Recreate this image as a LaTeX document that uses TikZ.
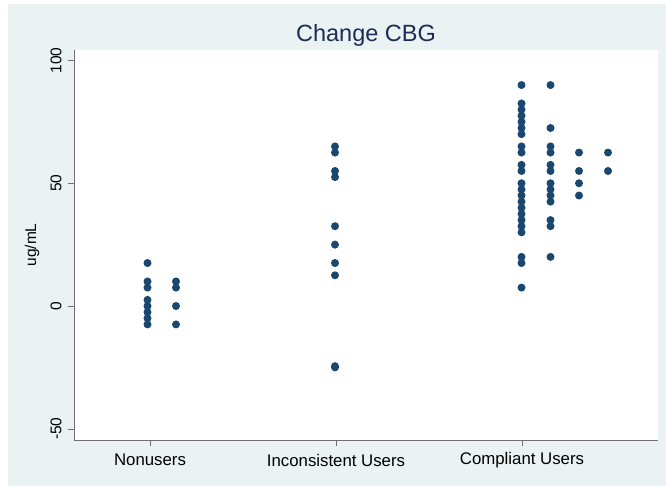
\documentclass[tikz,border=0pt]{standalone}
\usepackage{fontspec}
\setmainfont{Liberation Sans}
\definecolor{panelbg}{HTML}{EAF2F3}
\definecolor{dotblue}{HTML}{1A476F}
\definecolor{titlenavy}{HTML}{1E2D53}
\definecolor{axisgray}{HTML}{707070}
\tikzset{
  datadot/.style={fill=dotblue},
  ticklab/.style={font=\fontsize{15.5}{16}\selectfont, rotate=90},
  catlab/.style={font=\fontsize{16.8}{18}\selectfont},
}
\begin{document}
\begin{tikzpicture}[x=1pt, y=-1pt]
    \useasboundingbox (0,0) rectangle (666,486);
    \fill[panelbg] (8,4) rectangle (666,486);
    \fill[white] (74,50) rectangle (658,440);

    \node[font=\fontsize{23.5}{25}\selectfont, text=titlenavy] (title) at (366,35) {Change CBG};
    \node[ticklab] (ylab) at (32,245) {ug/mL};

    % y axis
    \draw[axisgray] (74,50) -- (74,440);
    \foreach \v/\lab in {100/100, 50/50, 0/0, -50/-50} {
        \draw[axisgray] (68,{306-2.455*\v}) -- (74,{306-2.455*\v});
        \node[ticklab] (ytick\lab) at (56,{306-2.455*\v}) {\lab};
    }

    % x axis
    \draw[axisgray] (74,440) -- (658,440);
    \foreach \x/\name/\lab in {150/nonusers/Nonusers, 336/inconsistent/Inconsistent Users, 522/compliant/Compliant Users} {
        \draw[axisgray] (\x,440) -- (\x,446);
        \node[catlab] (\name) at (\x,460) {\lab};
    }

    % dots
    \foreach \v in {17.5,10,7.5,2.5,0,-2.5,-5,-7.5}
        \fill[datadot] (147.5,{306-2.455*\v}) circle (4);
    \foreach \v in {10,7.5,0,-7.5}
        \fill[datadot] (176,{306-2.455*\v}) circle (4);
    \foreach \v in {65,62.5,55,52.5,32.5,25,17.5,12.5,-25,-24.5}
        \fill[datadot] (335,{306-2.455*\v}) circle (4);
    \foreach \v in {90,82.5,80,77.5,75,72.5,70,65,62.5,57.5,55,50,47.5,45,42.5,40,37.5,35,32.5,30,20,17.5,7.5}
        \fill[datadot] (521.5,{306-2.455*\v}) circle (4);
    \foreach \v in {90,72.5,65,62.5,57.5,55,50,47.5,45,42.5,35,32.5,20}
        \fill[datadot] (550.5,{306-2.455*\v}) circle (4);
    \foreach \v in {62.5,55,50,45}
        \fill[datadot] (579,{306-2.455*\v}) circle (4);
    \foreach \v in {62.5,55}
        \fill[datadot] (608,{306-2.455*\v}) circle (4);
\end{tikzpicture}
\end{document}
